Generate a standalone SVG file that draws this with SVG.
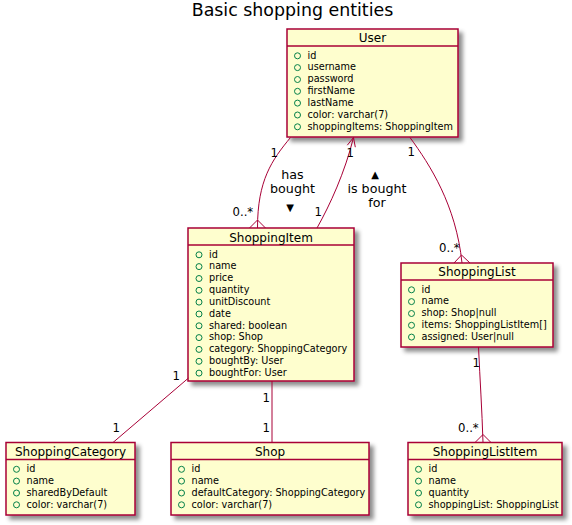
<svg xmlns="http://www.w3.org/2000/svg" width="572" height="525" viewBox="0 0 572 525">
<defs>
<filter id="sh" x="-20%" y="-20%" width="150%" height="150%">
<feGaussianBlur in="SourceAlpha" stdDeviation="2" result="b"/>
<feColorMatrix type="matrix" in="b" result="c" values="0 0 0 0 0  0 0 0 0 0  0 0 0 0 0  0 0 0 0.45 0"/>
<feOffset dx="4" dy="4" in="c" result="o"/>
<feBlend in="SourceGraphic" in2="o" mode="normal"/>
</filter>
<style>
text{font-family:"DejaVu Sans","Noto Sans",sans-serif;fill:#000}
.box{fill:#FEFECE;stroke:#A80036;stroke-width:1.5;filter:url(#sh)}
.sep{stroke:#A80036;stroke-width:1.5}
.name{font-size:12px;text-anchor:middle}
.attr{font-size:9.7px}
.vis{fill:none;stroke:#038048;stroke-width:1}
.ln{fill:none;stroke:#A80036;stroke-width:1}
.mult{font-size:11.7px}
.lbl{font-size:12.7px;text-anchor:middle}
.title{font-size:17.4px;text-anchor:middle}
</style>
</defs>
<rect width="572" height="525" fill="#FFFFFF"/>
<text class="title" x="292.5" y="16">Basic shopping entities</text>

<g id="User">
<rect class="box" x="287" y="29" width="171" height="108"/>
<line class="sep" x1="287" y1="46" x2="458" y2="46"/>
<text class="name" x="372.5" y="42">User</text>
<circle class="vis" cx="297.5" cy="55.8" r="3"/><text class="attr" x="307.5" y="58.5">id</text>
<circle class="vis" cx="297.5" cy="67.6" r="3"/><text class="attr" x="307.5" y="70.3">username</text>
<circle class="vis" cx="297.5" cy="79.5" r="3"/><text class="attr" x="307.5" y="82.2">password</text>
<circle class="vis" cx="297.5" cy="91.3" r="3"/><text class="attr" x="307.5" y="94">firstName</text>
<circle class="vis" cx="297.5" cy="103.1" r="3"/><text class="attr" x="307.5" y="105.8">lastName</text>
<circle class="vis" cx="297.5" cy="115" r="3"/><text class="attr" x="307.5" y="117.7">color: varchar(7)</text>
<circle class="vis" cx="297.5" cy="126.8" r="3"/><text class="attr" x="307.5" y="129.5">shoppingItems: ShoppingItem</text>
</g>

<g id="ShoppingItem">
<rect class="box" x="188" y="228" width="166" height="153"/>
<line class="sep" x1="188" y1="245" x2="354" y2="245"/>
<text class="name" x="271" y="241.5">ShoppingItem</text>
<circle class="vis" cx="199" cy="254.8" r="3"/><text class="attr" x="209" y="257.5">id</text>
<circle class="vis" cx="199" cy="266.6" r="3"/><text class="attr" x="209" y="269.3">name</text>
<circle class="vis" cx="199" cy="278.5" r="3"/><text class="attr" x="209" y="281.2">price</text>
<circle class="vis" cx="199" cy="290.3" r="3"/><text class="attr" x="209" y="293">quantity</text>
<circle class="vis" cx="199" cy="302.1" r="3"/><text class="attr" x="209" y="304.8">unitDiscount</text>
<circle class="vis" cx="199" cy="314" r="3"/><text class="attr" x="209" y="316.7">date</text>
<circle class="vis" cx="199" cy="325.8" r="3"/><text class="attr" x="209" y="328.5">shared: boolean</text>
<circle class="vis" cx="199" cy="337.6" r="3"/><text class="attr" x="209" y="340.3">shop: Shop</text>
<circle class="vis" cx="199" cy="349.4" r="3"/><text class="attr" x="209" y="352.1">category: ShoppingCategory</text>
<circle class="vis" cx="199" cy="361.3" r="3"/><text class="attr" x="209" y="364">boughtBy: User</text>
<circle class="vis" cx="199" cy="373.1" r="3"/><text class="attr" x="209" y="375.8">boughtFor: User</text>
</g>

<g id="ShoppingList">
<rect class="box" x="401" y="263" width="152" height="84"/>
<line class="sep" x1="401" y1="280" x2="553" y2="280"/>
<text class="name" x="477" y="276">ShoppingList</text>
<circle class="vis" cx="411.5" cy="289.8" r="3"/><text class="attr" x="421.5" y="292.5">id</text>
<circle class="vis" cx="411.5" cy="301.6" r="3"/><text class="attr" x="421.5" y="304.3">name</text>
<circle class="vis" cx="411.5" cy="313.5" r="3"/><text class="attr" x="421.5" y="316.2">shop: Shop|null</text>
<circle class="vis" cx="411.5" cy="325.3" r="3"/><text class="attr" x="421.5" y="328">items: ShoppingListItem[]</text>
<circle class="vis" cx="411.5" cy="337.1" r="3"/><text class="attr" x="421.5" y="339.8">assigned: User|null</text>
</g>

<g id="ShoppingCategory">
<rect class="box" x="6" y="442.5" width="129" height="72.5"/>
<line class="sep" x1="6" y1="459.5" x2="135" y2="459.5"/>
<text class="name" x="70.5" y="455.5">ShoppingCategory</text>
<circle class="vis" cx="16.5" cy="469.3" r="3"/><text class="attr" x="26.5" y="472">id</text>
<circle class="vis" cx="16.5" cy="481.1" r="3"/><text class="attr" x="26.5" y="483.8">name</text>
<circle class="vis" cx="16.5" cy="493" r="3"/><text class="attr" x="26.5" y="495.7">sharedByDefault</text>
<circle class="vis" cx="16.5" cy="504.8" r="3"/><text class="attr" x="26.5" y="507.5">color: varchar(7)</text>
</g>

<g id="Shop">
<rect class="box" x="171" y="442.5" width="198" height="72.5"/>
<line class="sep" x1="171" y1="459.5" x2="369" y2="459.5"/>
<text class="name" x="270" y="455.5">Shop</text>
<circle class="vis" cx="181.5" cy="469.3" r="3"/><text class="attr" x="191.5" y="472">id</text>
<circle class="vis" cx="181.5" cy="481.1" r="3"/><text class="attr" x="191.5" y="483.8">name</text>
<circle class="vis" cx="181.5" cy="493" r="3"/><text class="attr" x="191.5" y="495.7">defaultCategory: ShoppingCategory</text>
<circle class="vis" cx="181.5" cy="504.8" r="3"/><text class="attr" x="191.5" y="507.5">color: varchar(7)</text>
</g>

<g id="ShoppingListItem">
<rect class="box" x="408" y="442.5" width="154" height="72.5"/>
<line class="sep" x1="408" y1="459.5" x2="562" y2="459.5"/>
<text class="name" x="485" y="455.5">ShoppingListItem</text>
<circle class="vis" cx="418.5" cy="469.3" r="3"/><text class="attr" x="428.5" y="472">id</text>
<circle class="vis" cx="418.5" cy="481.1" r="3"/><text class="attr" x="428.5" y="483.8">name</text>
<circle class="vis" cx="418.5" cy="493" r="3"/><text class="attr" x="428.5" y="495.7">quantity</text>
<circle class="vis" cx="418.5" cy="504.8" r="3"/><text class="attr" x="428.5" y="507.5">shoppingList: ShoppingList</text>
</g>

<g id="connectors">
<!-- User - ShoppingItem : has bought -->
<path class="ln" d="M290.5,137.5 C272,160 257.5,180 257.5,228"/>
<path class="ln" d="M249.5,228 L257.5,220 L265.5,228"/>
<text class="mult" x="270.5" y="157">1</text>
<text class="mult" x="232.5" y="216">0..*</text>
<text class="lbl" x="292.5" y="179.3">has</text>
<text class="lbl" x="292.5" y="193.3">bought</text>
<text class="lbl" x="290" y="211" style="font-size:10px">▼</text>

<!-- ShoppingItem - User : is bought for -->
<path class="ln" d="M317,228 C330,205 345,172 353.5,137.5"/>
<path class="ln" d="M347.3,145.2 L353.5,137.5 L355.3,147.2"/>
<text class="mult" x="346.5" y="157">1</text>
<text class="mult" x="314.5" y="216">1</text>
<text class="lbl" x="375" y="178" style="font-size:10px">▲</text>
<text class="lbl" x="377" y="192.7">is bought</text>
<text class="lbl" x="377" y="206.7">for</text>

<!-- User - ShoppingList -->
<path class="ln" d="M410,137.5 C430,165 456,205 462,263"/>
<path class="ln" d="M454,263 L461.5,255 L470,263"/>
<text class="mult" x="407.5" y="156">1</text>
<text class="mult" x="439" y="252">0..*</text>

<!-- ShoppingItem - ShoppingCategory -->
<path class="ln" d="M188.5,378 L113,442.5"/>
<text class="mult" x="172.5" y="380">1</text>
<text class="mult" x="112.5" y="431.5">1</text>

<!-- ShoppingItem - Shop -->
<path class="ln" d="M272,381 L272,442.5"/>
<text class="mult" x="262.5" y="401.5">1</text>
<text class="mult" x="262.5" y="431.5">1</text>

<!-- ShoppingList - ShoppingListItem -->
<path class="ln" d="M478.5,347 C480,380 482,410 483,442.5"/>
<path class="ln" d="M475,442.5 L483,434.5 L491,442.5"/>
<text class="mult" x="472.5" y="367">1</text>
<text class="mult" x="458" y="431.5">0..*</text>
</g>
</svg>
